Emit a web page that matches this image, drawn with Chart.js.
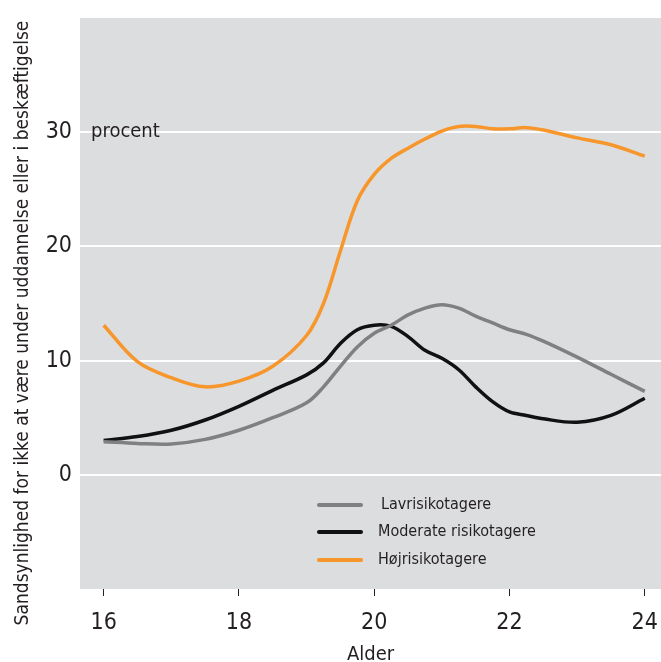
<!DOCTYPE html>
<html>
<head>
<meta charset="utf-8">
<script src="https://cdn.jsdelivr.net/npm/chart.js@4.4.1/dist/chart.umd.min.js"></script>
<style>
    html, body { margin: 0; padding: 0; background: #fff; }
    #wrap { width: 661px; height: 662px; position: relative; }
</style>
</head>
<body>
<div id="wrap"><canvas id="ageChart" width="661" height="662"></canvas></div>
<script>
    'use strict';

    // Data
    const ages = [16, 16.5, 17, 17.5, 18, 18.5, 19, 19.25, 19.5, 19.75, 20, 20.25, 20.5, 20.75, 21, 21.25, 21.5, 21.75, 22, 22.25, 22.5, 23, 23.5, 24];
    const lavRisiko = [2.9, 2.75, 2.7, 3.1, 3.9, 5.0, 6.3, 7.7, 9.5, 11.2, 12.4, 13.1, 14.0, 14.6, 14.9, 14.6, 13.9, 13.3, 12.7, 12.3, 11.7, 10.3, 8.8, 7.3];
    const moderatRisiko = [3.0, 3.35, 3.9, 4.8, 6.0, 7.4, 8.75, 9.8, 11.5, 12.7, 13.1, 13.0, 12.1, 10.9, 10.2, 9.2, 7.7, 6.4, 5.5, 5.2, 4.9, 4.6, 5.2, 6.7];
    const hoejRisiko = [13.1, 9.9, 8.5, 7.7, 8.2, 9.5, 12.2, 15.0, 19.6, 24.0, 26.3, 27.7, 28.6, 29.4, 30.1, 30.5, 30.5, 30.3, 30.3, 30.4, 30.2, 29.5, 28.9, 27.9];

    const seriesLabels = ['Lavrisikotagere', 'Moderate risikotagere', 'Højrisikotagere'];
    const xTicks = [16, 18, 20, 22, 24];
    const yTicks = [0, 10, 20, 30];

    const FONT = '"Liberation Sans Narrow", "DejaVu Sans Condensed", "Noto Sans", sans-serif';
    const TEXT = '#231f20';

    function toPoints(values) {
        return values.map((v, i) => ({ x: ages[i], y: v }));
    }

    // Grey plot background
    const plotBackground = {
        id: 'plotBackground',
        beforeDraw(chart) {
            const a = chart.chartArea;
            const ctx = chart.ctx;
            ctx.save();
            ctx.fillStyle = '#dcdddf';
            ctx.fillRect(a.left, a.top, a.right - a.left, a.bottom - a.top);
            ctx.restore();
        }
    };

    // Y title, unit label and legend drawn inside the plot
    const extras = {
        id: 'extras',
        afterDraw(chart) {
            const ctx = chart.ctx;
            const y = chart.scales.y;
            ctx.save();
            ctx.fillStyle = TEXT;

            ctx.save();
            ctx.translate(23, 323);
            ctx.rotate(-Math.PI / 2);
            ctx.font = '19px ' + FONT;
            ctx.textAlign = 'center';
            ctx.textBaseline = 'middle';
            ctx.fillText('Sandsynlighed for ikke at være under uddannelse eller i beskæftigelse', 0, 0);
            ctx.restore();

            ctx.font = '20px ' + FONT;
            ctx.textAlign = 'left';
            ctx.textBaseline = 'middle';
            ctx.fillText('procent', 91, y.getPixelForValue(30));

            // legend
            ctx.font = '16px ' + FONT;
            const rows = [505, 532, 560];
            chart.data.datasets.forEach((ds, i) => {
                ctx.strokeStyle = ds.borderColor;
                ctx.lineWidth = 4;
                ctx.lineCap = 'round';
                ctx.beginPath();
                ctx.moveTo(319, rows[i]);
                ctx.lineTo(361, rows[i]);
                ctx.stroke();
                ctx.fillText(ds.label, i === 0 ? 381 : 378, rows[i]);
            });
            ctx.restore();
        }
    };

    const ctx = document.getElementById('ageChart').getContext('2d');
    new Chart(ctx, {
        type: 'line',
        data: {
            datasets: [{
                label: seriesLabels[0],
                data: toPoints(lavRisiko),
                borderColor: '#808080',
                borderWidth: 3.5
            }, {
                label: seriesLabels[1],
                data: toPoints(moderatRisiko),
                borderColor: '#111111',
                borderWidth: 3.5
            }, {
                label: seriesLabels[2],
                data: toPoints(hoejRisiko),
                borderColor: '#f7962b',
                borderWidth: 3.5
            }]
        },
        options: {
            responsive: false,
            animation: false,
            layout: { padding: { top: 18, right: 0, left: 0, bottom: 0 } },
            elements: {
                point: { radius: 0 },
                line: { tension: 0.35, fill: false, capBezierPoints: true }
            },
            plugins: {
                legend: { display: false },
                tooltip: { enabled: false }
            },
            scales: {
                x: {
                    type: 'linear',
                    min: 15.65,
                    max: 24.24,
                    afterBuildTicks: scale => { scale.ticks = xTicks.map(v => ({ value: v })); },
                    afterFit: scale => {
                        scale.height = 73;
                        scale.paddingLeft = 0;
                        scale.paddingRight = 0;
                    },
                    border: { display: false },
                    grid: {
                        drawOnChartArea: false,
                        drawTicks: true,
                        tickLength: 7,
                        color: TEXT,
                        lineWidth: 1
                    },
                    ticks: {
                        color: TEXT,
                        font: { family: FONT, size: 23 },
                        padding: 13,
                        maxRotation: 0
                    },
                    title: {
                        display: true,
                        text: 'Alder',
                        color: TEXT,
                        font: { family: FONT, size: 20 },
                        padding: { top: 8, bottom: -5 }
                    }
                },
                y: {
                    min: -10,
                    max: 40,
                    afterBuildTicks: scale => { scale.ticks = yTicks.map(v => ({ value: v })); },
                    afterFit: scale => {
                        scale.width = 80;
                        scale.paddingTop = 0;
                        scale.paddingBottom = 0;
                    },
                    border: { display: false },
                    grid: {
                        color: '#ffffff',
                        lineWidth: 2,
                        drawTicks: false
                    },
                    ticks: {
                        color: TEXT,
                        font: { family: FONT, size: 23 },
                        padding: 8
                    }
                }
            }
        },
        plugins: [plotBackground, extras]
    });
</script>
</body>
</html>
